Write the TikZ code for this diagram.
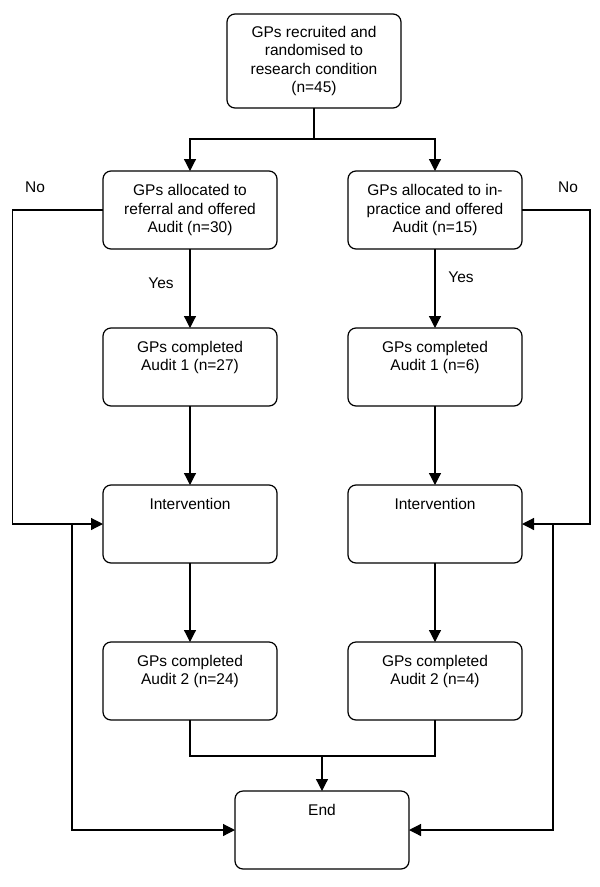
\documentclass[tikz,border=0pt]{standalone}
\usepackage{fontspec}
\setmainfont{Liberation Sans}
\usetikzlibrary{arrows.meta}
\tikzset{
  box/.style={draw, line width=1.2pt, rounded corners=8pt, inner sep=0pt, outer sep=0pt},
  arr/.style={line width=1.2pt, -{Triangle[length=12pt,width=12pt]}},
  ln/.style={line width=1.2pt},
  lbl/.style={inner sep=0pt, font=\fontsize{15.5}{18.5}\selectfont}
}
\newcommand{\ctext}[2]{\parbox[c][#1][c]{174pt}{\centering\fontsize{15.5}{18.5}\selectfont #2}}
\newcommand{\ttext}[2]{\parbox[t][#1][t]{174pt}{\centering\fontsize{15.5}{18.5}\selectfont\rule{0pt}{24pt}#2}}
\begin{document}
\begin{tikzpicture}[x=1pt,y=-1pt]
\useasboundingbox (0,0) rectangle (600,887);
% boxes
\node[box] (top) at (314,61) {\ctext{94pt}{GPs recruited and\\randomised to\\research condition\\(n=45)}};
\node[box] (l1) at (190,210) {\ctext{78pt}{GPs allocated to\\referral and offered\\Audit (n=30)}};
\node[box] (r1) at (435,210) {\ctext{78pt}{GPs allocated to in-\\practice and offered\\Audit (n=15)}};
\node[box,anchor=north] (a1l) at (190,328) {\ttext{78pt}{GPs completed\\Audit 1 (n=27)}};
\node[box,anchor=north] (a1r) at (435,328) {\ttext{78pt}{GPs completed\\Audit 1 (n=6)}};
\node[box,anchor=north] (il) at (190,485) {\ttext{78pt}{Intervention}};
\node[box,anchor=north] (ir) at (435,485) {\ttext{78pt}{Intervention}};
\node[box,anchor=north] (a2l) at (190,642) {\ttext{78pt}{GPs completed\\Audit 2 (n=24)}};
\node[box,anchor=north] (a2r) at (435,642) {\ttext{78pt}{GPs completed\\Audit 2 (n=4)}};
\node[box,anchor=north] (end) at (322,791) {\ttext{78pt}{End}};
% labels
\node[lbl] (nol) at (35,187) {No};
\node[lbl] (nor) at (568,187) {No};
\node[lbl] (yesl) at (161,283) {Yes};
\node[lbl] (yesr) at (461,277) {Yes};
% coordinates
\coordinate (br) at (314,139);
\coordinate (nl) at (12.5,367);
\coordinate (nr) at (590,367);
\coordinate (bl) at (72,524);
\coordinate (brr) at (553,524);
\coordinate (jn) at (322,756);
% connectors
\draw[ln] (top.south) -- (br);
\draw[arr] (br) -| (l1.north);
\draw[arr] (br) -| (r1.north);
\draw[arr] (l1.west) -| (nl) |- (il.west);
\draw[arr] (r1.east) -| (nr) |- (ir.east);
\draw[arr] (l1.south) -- (a1l.north);
\draw[arr] (r1.south) -- (a1r.north);
\draw[arr] (a1l.south) -- (il.north);
\draw[arr] (a1r.south) -- (ir.north);
\draw[arr] (il.south) -- (a2l.north);
\draw[arr] (ir.south) -- (a2r.north);
\draw[ln] (a2l.south) |- (jn);
\draw[ln] (a2r.south) |- (jn);
\draw[arr] (jn) -- (end.north);
\draw[arr] (bl) |- (end.west);
\draw[arr] (brr) |- (end.east);
\end{tikzpicture}
\end{document}
